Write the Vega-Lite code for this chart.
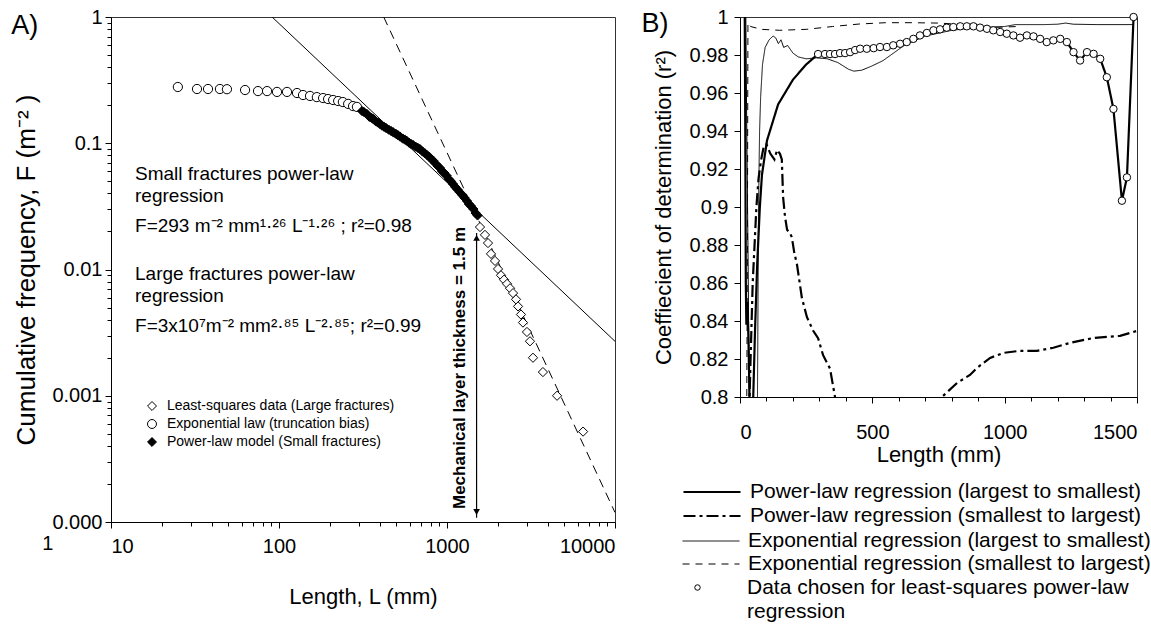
{
  "$schema": "https://vega.github.io/schema/vega-lite/v6.json",
  "background": "white",
  "padding": {"left": 10, "top": 6, "right": 0, "bottom": 0},
  "spacing": 125,
  "bounds": "flush",
  "resolve": {"scale": {"strokeDash": "independent", "shape": "independent", "fill": "independent", "stroke": "independent"}, "legend": {"strokeDash": "independent", "shape": "independent", "fill": "independent", "stroke": "independent"}},
  "config": {
    "font": "Liberation Sans",
    "view": {"stroke": "#333", "strokeWidth": 1},
    "axis": {"grid": false, "domainColor": "black", "tickColor": "black", "labelColor": "black", "titleColor": "black", "labelFontSize": 20, "titleFontSize": 22, "titleFontWeight": "normal", "labelOverlap": false, "labelBound": false},
    "legend": {"labelColor": "black", "titleColor": "black"}
  },
  "datasets": {
    "leftFit": [
      {"L": 91, "F": 1, "fit": "small"}, {"L": 10000, "F": 0.0027, "fit": "small"},
      {"L": 420, "F": 1, "fit": "large"}, {"L": 10000, "F": 0.000119, "fit": "large"}
    ],
    "leftArrow": [{"L": 1500, "F": 0.0195, "F2": 0.000108}],
    "leftArrowHeads": [{"L": 1500, "F": 0.0178, "dir": "up"}, {"L": 1500, "F": 0.00012, "dir": "down"}],
    "leftPoints": [
      {"L": 25.0, "F": 0.279, "kind": "Exponential law (truncation bias)"},
      {"L": 32.5, "F": 0.269, "kind": "Exponential law (truncation bias)"},
      {"L": 37.8, "F": 0.269, "kind": "Exponential law (truncation bias)"},
      {"L": 44.5, "F": 0.269, "kind": "Exponential law (truncation bias)"},
      {"L": 49.0, "F": 0.268, "kind": "Exponential law (truncation bias)"},
      {"L": 62.8, "F": 0.264, "kind": "Exponential law (truncation bias)"},
      {"L": 75.0, "F": 0.259, "kind": "Exponential law (truncation bias)"},
      {"L": 84.9, "F": 0.259, "kind": "Exponential law (truncation bias)"},
      {"L": 97.3, "F": 0.255, "kind": "Exponential law (truncation bias)"},
      {"L": 111.6, "F": 0.255, "kind": "Exponential law (truncation bias)"},
      {"L": 128, "F": 0.250, "kind": "Exponential law (truncation bias)"},
      {"L": 139, "F": 0.241, "kind": "Exponential law (truncation bias)"},
      {"L": 153, "F": 0.237, "kind": "Exponential law (truncation bias)"},
      {"L": 168, "F": 0.232, "kind": "Exponential law (truncation bias)"},
      {"L": 183, "F": 0.228, "kind": "Exponential law (truncation bias)"},
      {"L": 196, "F": 0.224, "kind": "Exponential law (truncation bias)"},
      {"L": 210, "F": 0.220, "kind": "Exponential law (truncation bias)"},
      {"L": 225, "F": 0.216, "kind": "Exponential law (truncation bias)"},
      {"L": 240, "F": 0.212, "kind": "Exponential law (truncation bias)"},
      {"L": 258, "F": 0.205, "kind": "Exponential law (truncation bias)"},
      {"L": 276, "F": 0.197, "kind": "Exponential law (truncation bias)"},
      {"L": 291, "F": 0.194, "kind": "Exponential law (truncation bias)"},
      {"L": 312, "F": 0.180, "kind": "Power-law model (Small fractures)"},
      {"L": 320, "F": 0.177, "kind": "Power-law model (Small fractures)"},
      {"L": 333, "F": 0.171, "kind": "Power-law model (Small fractures)"},
      {"L": 345, "F": 0.162, "kind": "Power-law model (Small fractures)"},
      {"L": 355, "F": 0.159, "kind": "Power-law model (Small fractures)"},
      {"L": 363, "F": 0.156, "kind": "Power-law model (Small fractures)"},
      {"L": 375, "F": 0.150, "kind": "Power-law model (Small fractures)"},
      {"L": 387, "F": 0.146, "kind": "Power-law model (Small fractures)"},
      {"L": 399, "F": 0.142, "kind": "Power-law model (Small fractures)"},
      {"L": 410, "F": 0.138, "kind": "Power-law model (Small fractures)"},
      {"L": 422, "F": 0.135, "kind": "Power-law model (Small fractures)"},
      {"L": 434, "F": 0.132, "kind": "Power-law model (Small fractures)"},
      {"L": 450, "F": 0.128, "kind": "Power-law model (Small fractures)"},
      {"L": 465, "F": 0.125, "kind": "Power-law model (Small fractures)"},
      {"L": 479, "F": 0.122, "kind": "Power-law model (Small fractures)"},
      {"L": 495, "F": 0.119, "kind": "Power-law model (Small fractures)"},
      {"L": 510, "F": 0.116, "kind": "Power-law model (Small fractures)"},
      {"L": 525, "F": 0.113, "kind": "Power-law model (Small fractures)"},
      {"L": 545, "F": 0.109, "kind": "Power-law model (Small fractures)"},
      {"L": 560, "F": 0.107, "kind": "Power-law model (Small fractures)"},
      {"L": 575, "F": 0.1047, "kind": "Power-law model (Small fractures)"},
      {"L": 595, "F": 0.101, "kind": "Power-law model (Small fractures)"},
      {"L": 610, "F": 0.099, "kind": "Power-law model (Small fractures)"},
      {"L": 628, "F": 0.0969, "kind": "Power-law model (Small fractures)"},
      {"L": 650, "F": 0.094, "kind": "Power-law model (Small fractures)"},
      {"L": 670, "F": 0.092, "kind": "Power-law model (Small fractures)"},
      {"L": 690, "F": 0.090, "kind": "Power-law model (Small fractures)"},
      {"L": 715, "F": 0.086, "kind": "Power-law model (Small fractures)"},
      {"L": 740, "F": 0.083, "kind": "Power-law model (Small fractures)"},
      {"L": 760, "F": 0.0807, "kind": "Power-law model (Small fractures)"},
      {"L": 785, "F": 0.078, "kind": "Power-law model (Small fractures)"},
      {"L": 805, "F": 0.075, "kind": "Power-law model (Small fractures)"},
      {"L": 828, "F": 0.0728, "kind": "Power-law model (Small fractures)"},
      {"L": 855, "F": 0.069, "kind": "Power-law model (Small fractures)"},
      {"L": 880, "F": 0.066, "kind": "Power-law model (Small fractures)"},
      {"L": 908, "F": 0.0637, "kind": "Power-law model (Small fractures)"},
      {"L": 935, "F": 0.060, "kind": "Power-law model (Small fractures)"},
      {"L": 965, "F": 0.058, "kind": "Power-law model (Small fractures)"},
      {"L": 995, "F": 0.0553, "kind": "Power-law model (Small fractures)"},
      {"L": 1025, "F": 0.052, "kind": "Power-law model (Small fractures)"},
      {"L": 1055, "F": 0.050, "kind": "Power-law model (Small fractures)"},
      {"L": 1086, "F": 0.0475, "kind": "Power-law model (Small fractures)"},
      {"L": 1120, "F": 0.045, "kind": "Power-law model (Small fractures)"},
      {"L": 1155, "F": 0.043, "kind": "Power-law model (Small fractures)"},
      {"L": 1194, "F": 0.0408, "kind": "Power-law model (Small fractures)"},
      {"L": 1230, "F": 0.039, "kind": "Power-law model (Small fractures)"},
      {"L": 1270, "F": 0.037, "kind": "Power-law model (Small fractures)"},
      {"L": 1315, "F": 0.0349, "kind": "Power-law model (Small fractures)"},
      {"L": 1350, "F": 0.033, "kind": "Power-law model (Small fractures)"},
      {"L": 1390, "F": 0.0318, "kind": "Power-law model (Small fractures)"},
      {"L": 1435, "F": 0.0301, "kind": "Power-law model (Small fractures)"},
      {"L": 1480, "F": 0.028, "kind": "Power-law model (Small fractures)"},
      {"L": 1520, "F": 0.0268, "kind": "Power-law model (Small fractures)"},
      {"L": 1572, "F": 0.0217, "kind": "Least-squares data (Large fractures)"},
      {"L": 1683, "F": 0.0188, "kind": "Least-squares data (Large fractures)"},
      {"L": 1754, "F": 0.0162, "kind": "Least-squares data (Large fractures)"},
      {"L": 1828, "F": 0.0133, "kind": "Least-squares data (Large fractures)"},
      {"L": 1931, "F": 0.0117, "kind": "Least-squares data (Large fractures)"},
      {"L": 2013, "F": 0.0101, "kind": "Least-squares data (Large fractures)"},
      {"L": 2096, "F": 0.0090, "kind": "Least-squares data (Large fractures)"},
      {"L": 2185, "F": 0.0083, "kind": "Least-squares data (Large fractures)"},
      {"L": 2277, "F": 0.0077, "kind": "Least-squares data (Large fractures)"},
      {"L": 2373, "F": 0.0071, "kind": "Least-squares data (Large fractures)"},
      {"L": 2472, "F": 0.0065, "kind": "Least-squares data (Large fractures)"},
      {"L": 2576, "F": 0.0058, "kind": "Least-squares data (Large fractures)"},
      {"L": 2648, "F": 0.0051, "kind": "Least-squares data (Large fractures)"},
      {"L": 2756, "F": 0.0044, "kind": "Least-squares data (Large fractures)"},
      {"L": 2833, "F": 0.0038, "kind": "Least-squares data (Large fractures)"},
      {"L": 2992, "F": 0.0032, "kind": "Least-squares data (Large fractures)"},
      {"L": 3118, "F": 0.0027, "kind": "Least-squares data (Large fractures)"},
      {"L": 3250, "F": 0.0020, "kind": "Least-squares data (Large fractures)"},
      {"L": 3724, "F": 0.00154, "kind": "Least-squares data (Large fractures)"},
      {"L": 4520, "F": 0.00100, "kind": "Least-squares data (Large fractures)"},
      {"L": 6457, "F": 0.00052, "kind": "Least-squares data (Large fractures)"}
    ],
    "leftText": [
      {"L": 13.9, "F": 0.0571, "text": "Small fractures power-law"},
      {"L": 13.9, "F": 0.0382, "text": "regression"},
      {"L": 13.9, "F": 0.0221, "text": "F=293 m⁻² mm¹·²⁶ L⁻¹·²⁶ ; r²=0.98"},
      {"L": 13.9, "F": 0.00921, "text": "Large fractures power-law"},
      {"L": 13.9, "F": 0.00617, "text": "regression"},
      {"L": 13.9, "F": 0.00357, "text": "F=3x10⁷m⁻² mm²·⁸⁵ L⁻²·⁸⁵; r²=0.99"}
    ],
    "leftArrowText": [{"L": 1194, "F": 0.00166, "text": "Mechanical layer thickness = 1.5 m"}],
    "leftPanelLabel": [{"L": 3.07, "F": 0.85, "text": "A)"}],
    "leftStray": [{"L": 4.2, "F": 0.000067, "text": "1"}],
    "rightLines": [
      {"L": 18, "r2": 1.0, "series": "Power-law regression (largest to smallest)"},
      {"L": 20, "r2": 0.94, "series": "Power-law regression (largest to smallest)"},
      {"L": 22, "r2": 0.86, "series": "Power-law regression (largest to smallest)"},
      {"L": 24, "r2": 0.838, "series": "Power-law regression (largest to smallest)"},
      {"L": 28, "r2": 0.85, "series": "Power-law regression (largest to smallest)"},
      {"L": 32, "r2": 0.83, "series": "Power-law regression (largest to smallest)"},
      {"L": 36, "r2": 0.80, "series": "Power-law regression (largest to smallest)"},
      {"L": 40, "r2": 0.78, "series": "Power-law regression (largest to smallest)"},
      {"L": 46, "r2": 0.78, "series": "Power-law regression (largest to smallest)"},
      {"L": 50, "r2": 0.80, "series": "Power-law regression (largest to smallest)"},
      {"L": 57, "r2": 0.836, "series": "Power-law regression (largest to smallest)"},
      {"L": 65, "r2": 0.87, "series": "Power-law regression (largest to smallest)"},
      {"L": 75, "r2": 0.90, "series": "Power-law regression (largest to smallest)"},
      {"L": 83, "r2": 0.917, "series": "Power-law regression (largest to smallest)"},
      {"L": 102, "r2": 0.935, "series": "Power-law regression (largest to smallest)"},
      {"L": 144, "r2": 0.954, "series": "Power-law regression (largest to smallest)"},
      {"L": 200, "r2": 0.967, "series": "Power-law regression (largest to smallest)"},
      {"L": 250, "r2": 0.975, "series": "Power-law regression (largest to smallest)"},
      {"L": 295, "r2": 0.9805, "series": "Power-law regression (largest to smallest)"},
      {"L": 321, "r2": 0.9805, "series": "Power-law regression (largest to smallest)"},
      {"L": 340, "r2": 0.9805, "series": "Power-law regression (largest to smallest)"},
      {"L": 359, "r2": 0.9805, "series": "Power-law regression (largest to smallest)"},
      {"L": 378, "r2": 0.981, "series": "Power-law regression (largest to smallest)"},
      {"L": 397, "r2": 0.981, "series": "Power-law regression (largest to smallest)"},
      {"L": 416, "r2": 0.9815, "series": "Power-law regression (largest to smallest)"},
      {"L": 435, "r2": 0.9826, "series": "Power-law regression (largest to smallest)"},
      {"L": 454, "r2": 0.9833, "series": "Power-law regression (largest to smallest)"},
      {"L": 479, "r2": 0.9833, "series": "Power-law regression (largest to smallest)"},
      {"L": 505, "r2": 0.9836, "series": "Power-law regression (largest to smallest)"},
      {"L": 529, "r2": 0.9842, "series": "Power-law regression (largest to smallest)"},
      {"L": 555, "r2": 0.9842, "series": "Power-law regression (largest to smallest)"},
      {"L": 579, "r2": 0.9851, "series": "Power-law regression (largest to smallest)"},
      {"L": 605, "r2": 0.9859, "series": "Power-law regression (largest to smallest)"},
      {"L": 630, "r2": 0.9868, "series": "Power-law regression (largest to smallest)"},
      {"L": 655, "r2": 0.9885, "series": "Power-law regression (largest to smallest)"},
      {"L": 680, "r2": 0.9903, "series": "Power-law regression (largest to smallest)"},
      {"L": 706, "r2": 0.9916, "series": "Power-law regression (largest to smallest)"},
      {"L": 731, "r2": 0.993, "series": "Power-law regression (largest to smallest)"},
      {"L": 756, "r2": 0.9935, "series": "Power-law regression (largest to smallest)"},
      {"L": 781, "r2": 0.9944, "series": "Power-law regression (largest to smallest)"},
      {"L": 806, "r2": 0.9947, "series": "Power-law regression (largest to smallest)"},
      {"L": 832, "r2": 0.9951, "series": "Power-law regression (largest to smallest)"},
      {"L": 857, "r2": 0.9951, "series": "Power-law regression (largest to smallest)"},
      {"L": 882, "r2": 0.9951, "series": "Power-law regression (largest to smallest)"},
      {"L": 907, "r2": 0.9944, "series": "Power-law regression (largest to smallest)"},
      {"L": 933, "r2": 0.9938, "series": "Power-law regression (largest to smallest)"},
      {"L": 957, "r2": 0.993, "series": "Power-law regression (largest to smallest)"},
      {"L": 983, "r2": 0.9921, "series": "Power-law regression (largest to smallest)"},
      {"L": 1008, "r2": 0.9912, "series": "Power-law regression (largest to smallest)"},
      {"L": 1033, "r2": 0.9903, "series": "Power-law regression (largest to smallest)"},
      {"L": 1058, "r2": 0.9891, "series": "Power-law regression (largest to smallest)"},
      {"L": 1084, "r2": 0.9903, "series": "Power-law regression (largest to smallest)"},
      {"L": 1109, "r2": 0.9898, "series": "Power-law regression (largest to smallest)"},
      {"L": 1134, "r2": 0.9885, "series": "Power-law regression (largest to smallest)"},
      {"L": 1159, "r2": 0.9868, "series": "Power-law regression (largest to smallest)"},
      {"L": 1184, "r2": 0.9877, "series": "Power-law regression (largest to smallest)"},
      {"L": 1210, "r2": 0.9885, "series": "Power-law regression (largest to smallest)"},
      {"L": 1235, "r2": 0.9868, "series": "Power-law regression (largest to smallest)"},
      {"L": 1260, "r2": 0.9815, "series": "Power-law regression (largest to smallest)"},
      {"L": 1285, "r2": 0.9771, "series": "Power-law regression (largest to smallest)"},
      {"L": 1311, "r2": 0.9815, "series": "Power-law regression (largest to smallest)"},
      {"L": 1336, "r2": 0.9806, "series": "Power-law regression (largest to smallest)"},
      {"L": 1361, "r2": 0.978, "series": "Power-law regression (largest to smallest)"},
      {"L": 1386, "r2": 0.9683, "series": "Power-law regression (largest to smallest)"},
      {"L": 1411, "r2": 0.9516, "series": "Power-law regression (largest to smallest)"},
      {"L": 1443, "r2": 0.9033, "series": "Power-law regression (largest to smallest)"},
      {"L": 1462, "r2": 0.9156, "series": "Power-law regression (largest to smallest)"},
      {"L": 1487, "r2": 1.0, "series": "Power-law regression (largest to smallest)"},
      {"L": 30, "r2": 0.78, "series": "Power-law regression (smallest to largest)"},
      {"L": 36, "r2": 0.80, "series": "Power-law regression (smallest to largest)"},
      {"L": 42, "r2": 0.83, "series": "Power-law regression (smallest to largest)"},
      {"L": 48, "r2": 0.86, "series": "Power-law regression (smallest to largest)"},
      {"L": 55, "r2": 0.88, "series": "Power-law regression (smallest to largest)"},
      {"L": 62, "r2": 0.90, "series": "Power-law regression (smallest to largest)"},
      {"L": 70, "r2": 0.915, "series": "Power-law regression (smallest to largest)"},
      {"L": 80, "r2": 0.925, "series": "Power-law regression (smallest to largest)"},
      {"L": 90, "r2": 0.932, "series": "Power-law regression (smallest to largest)"},
      {"L": 100, "r2": 0.933, "series": "Power-law regression (smallest to largest)"},
      {"L": 115, "r2": 0.928, "series": "Power-law regression (smallest to largest)"},
      {"L": 130, "r2": 0.925, "series": "Power-law regression (smallest to largest)"},
      {"L": 140, "r2": 0.93, "series": "Power-law regression (smallest to largest)"},
      {"L": 151, "r2": 0.928, "series": "Power-law regression (smallest to largest)"},
      {"L": 158, "r2": 0.925, "series": "Power-law regression (smallest to largest)"},
      {"L": 163, "r2": 0.905, "series": "Power-law regression (smallest to largest)"},
      {"L": 170, "r2": 0.895, "series": "Power-law regression (smallest to largest)"},
      {"L": 178, "r2": 0.888, "series": "Power-law regression (smallest to largest)"},
      {"L": 190, "r2": 0.886, "series": "Power-law regression (smallest to largest)"},
      {"L": 196, "r2": 0.884, "series": "Power-law regression (smallest to largest)"},
      {"L": 205, "r2": 0.876, "series": "Power-law regression (smallest to largest)"},
      {"L": 215, "r2": 0.870, "series": "Power-law regression (smallest to largest)"},
      {"L": 234, "r2": 0.852, "series": "Power-law regression (smallest to largest)"},
      {"L": 253, "r2": 0.842, "series": "Power-law regression (smallest to largest)"},
      {"L": 276, "r2": 0.835, "series": "Power-law regression (smallest to largest)"},
      {"L": 295, "r2": 0.831, "series": "Power-law regression (smallest to largest)"},
      {"L": 314, "r2": 0.822, "series": "Power-law regression (smallest to largest)"},
      {"L": 340, "r2": 0.815, "series": "Power-law regression (smallest to largest)"},
      {"L": 359, "r2": 0.80, "series": "Power-law regression (smallest to largest)"},
      {"L": 375, "r2": 0.78, "series": "Power-law regression (smallest to largest)"},
      {"L": 740, "r2": 0.78, "series": "Power-law regression (smallest to largest)"},
      {"L": 763, "r2": 0.80, "series": "Power-law regression (smallest to largest)"},
      {"L": 820, "r2": 0.8074, "series": "Power-law regression (smallest to largest)"},
      {"L": 869, "r2": 0.8116, "series": "Power-law regression (smallest to largest)"},
      {"L": 895, "r2": 0.8153, "series": "Power-law regression (smallest to largest)"},
      {"L": 945, "r2": 0.8206, "series": "Power-law regression (smallest to largest)"},
      {"L": 995, "r2": 0.8232, "series": "Power-law regression (smallest to largest)"},
      {"L": 1058, "r2": 0.8243, "series": "Power-law regression (smallest to largest)"},
      {"L": 1122, "r2": 0.8243, "series": "Power-law regression (smallest to largest)"},
      {"L": 1184, "r2": 0.8259, "series": "Power-law regression (smallest to largest)"},
      {"L": 1247, "r2": 0.8285, "series": "Power-law regression (smallest to largest)"},
      {"L": 1336, "r2": 0.8311, "series": "Power-law regression (smallest to largest)"},
      {"L": 1436, "r2": 0.8322, "series": "Power-law regression (smallest to largest)"},
      {"L": 1500, "r2": 0.8348, "series": "Power-law regression (smallest to largest)"},
      {"L": 22, "r2": 1.0, "series": "Exponential regression (largest to smallest)"},
      {"L": 25, "r2": 0.95, "series": "Exponential regression (largest to smallest)"},
      {"L": 30, "r2": 0.88, "series": "Exponential regression (largest to smallest)"},
      {"L": 35, "r2": 0.80, "series": "Exponential regression (largest to smallest)"},
      {"L": 40, "r2": 0.78, "series": "Exponential regression (largest to smallest)"},
      {"L": 60, "r2": 0.78, "series": "Exponential regression (largest to smallest)"},
      {"L": 66, "r2": 0.80, "series": "Exponential regression (largest to smallest)"},
      {"L": 70, "r2": 0.90, "series": "Exponential regression (largest to smallest)"},
      {"L": 74, "r2": 0.94, "series": "Exponential regression (largest to smallest)"},
      {"L": 78, "r2": 0.958, "series": "Exponential regression (largest to smallest)"},
      {"L": 85, "r2": 0.975, "series": "Exponential regression (largest to smallest)"},
      {"L": 95, "r2": 0.984, "series": "Exponential regression (largest to smallest)"},
      {"L": 110, "r2": 0.988, "series": "Exponential regression (largest to smallest)"},
      {"L": 125, "r2": 0.99, "series": "Exponential regression (largest to smallest)"},
      {"L": 135, "r2": 0.989, "series": "Exponential regression (largest to smallest)"},
      {"L": 145, "r2": 0.986, "series": "Exponential regression (largest to smallest)"},
      {"L": 155, "r2": 0.988, "series": "Exponential regression (largest to smallest)"},
      {"L": 165, "r2": 0.984, "series": "Exponential regression (largest to smallest)"},
      {"L": 180, "r2": 0.985, "series": "Exponential regression (largest to smallest)"},
      {"L": 200, "r2": 0.981, "series": "Exponential regression (largest to smallest)"},
      {"L": 220, "r2": 0.979, "series": "Exponential regression (largest to smallest)"},
      {"L": 250, "r2": 0.978, "series": "Exponential regression (largest to smallest)"},
      {"L": 290, "r2": 0.9785, "series": "Exponential regression (largest to smallest)"},
      {"L": 330, "r2": 0.978, "series": "Exponential regression (largest to smallest)"},
      {"L": 370, "r2": 0.976, "series": "Exponential regression (largest to smallest)"},
      {"L": 410, "r2": 0.9725, "series": "Exponential regression (largest to smallest)"},
      {"L": 430, "r2": 0.9715, "series": "Exponential regression (largest to smallest)"},
      {"L": 460, "r2": 0.972, "series": "Exponential regression (largest to smallest)"},
      {"L": 495, "r2": 0.974, "series": "Exponential regression (largest to smallest)"},
      {"L": 540, "r2": 0.977, "series": "Exponential regression (largest to smallest)"},
      {"L": 570, "r2": 0.98, "series": "Exponential regression (largest to smallest)"},
      {"L": 620, "r2": 0.985, "series": "Exponential regression (largest to smallest)"},
      {"L": 700, "r2": 0.99, "series": "Exponential regression (largest to smallest)"},
      {"L": 800, "r2": 0.993, "series": "Exponential regression (largest to smallest)"},
      {"L": 900, "r2": 0.9945, "series": "Exponential regression (largest to smallest)"},
      {"L": 1000, "r2": 0.995, "series": "Exponential regression (largest to smallest)"},
      {"L": 1040, "r2": 0.996, "series": "Exponential regression (largest to smallest)"},
      {"L": 1150, "r2": 0.996, "series": "Exponential regression (largest to smallest)"},
      {"L": 1200, "r2": 0.9962, "series": "Exponential regression (largest to smallest)"},
      {"L": 1230, "r2": 0.9968, "series": "Exponential regression (largest to smallest)"},
      {"L": 1260, "r2": 0.9962, "series": "Exponential regression (largest to smallest)"},
      {"L": 1350, "r2": 0.996, "series": "Exponential regression (largest to smallest)"},
      {"L": 1487, "r2": 0.996, "series": "Exponential regression (largest to smallest)"},
      {"L": 25, "r2": 0.78, "series": "Exponential regression (smallest to largest)"},
      {"L": 28, "r2": 0.88, "series": "Exponential regression (smallest to largest)"},
      {"L": 30, "r2": 0.997, "series": "Exponential regression (smallest to largest)"},
      {"L": 40, "r2": 0.995, "series": "Exponential regression (smallest to largest)"},
      {"L": 80, "r2": 0.9935, "series": "Exponential regression (smallest to largest)"},
      {"L": 150, "r2": 0.993, "series": "Exponential regression (smallest to largest)"},
      {"L": 250, "r2": 0.9935, "series": "Exponential regression (smallest to largest)"},
      {"L": 350, "r2": 0.995, "series": "Exponential regression (smallest to largest)"},
      {"L": 450, "r2": 0.9963, "series": "Exponential regression (smallest to largest)"},
      {"L": 550, "r2": 0.997, "series": "Exponential regression (smallest to largest)"},
      {"L": 650, "r2": 0.997, "series": "Exponential regression (smallest to largest)"},
      {"L": 750, "r2": 0.9968, "series": "Exponential regression (smallest to largest)"},
      {"L": 850, "r2": 0.996, "series": "Exponential regression (smallest to largest)"},
      {"L": 950, "r2": 0.9945, "series": "Exponential regression (smallest to largest)"},
      {"L": 1050, "r2": 0.995, "series": "Exponential regression (smallest to largest)"}
    ],
    "rightCircles": [
      {"L": 295, "r2": 0.9805}, {"L": 321, "r2": 0.9805}, {"L": 340, "r2": 0.9805}, {"L": 359, "r2": 0.9805},
      {"L": 378, "r2": 0.981}, {"L": 397, "r2": 0.981}, {"L": 416, "r2": 0.9815}, {"L": 435, "r2": 0.9826},
      {"L": 454, "r2": 0.9833}, {"L": 479, "r2": 0.9833}, {"L": 505, "r2": 0.9836}, {"L": 529, "r2": 0.9842},
      {"L": 555, "r2": 0.9842}, {"L": 579, "r2": 0.9851}, {"L": 605, "r2": 0.9859}, {"L": 630, "r2": 0.9868},
      {"L": 655, "r2": 0.9885}, {"L": 680, "r2": 0.9903}, {"L": 706, "r2": 0.9916}, {"L": 731, "r2": 0.993},
      {"L": 756, "r2": 0.9935}, {"L": 781, "r2": 0.9944}, {"L": 806, "r2": 0.9947}, {"L": 832, "r2": 0.9951},
      {"L": 857, "r2": 0.9951}, {"L": 882, "r2": 0.9951}, {"L": 907, "r2": 0.9944}, {"L": 933, "r2": 0.9938},
      {"L": 957, "r2": 0.993}, {"L": 983, "r2": 0.9921}, {"L": 1008, "r2": 0.9912}, {"L": 1033, "r2": 0.9903},
      {"L": 1058, "r2": 0.9891}, {"L": 1084, "r2": 0.9903}, {"L": 1109, "r2": 0.9898}, {"L": 1134, "r2": 0.9885},
      {"L": 1159, "r2": 0.9868}, {"L": 1184, "r2": 0.9877}, {"L": 1210, "r2": 0.9885}, {"L": 1235, "r2": 0.9868},
      {"L": 1260, "r2": 0.9815}, {"L": 1285, "r2": 0.9771}, {"L": 1311, "r2": 0.9815}, {"L": 1336, "r2": 0.9806},
      {"L": 1361, "r2": 0.978}, {"L": 1386, "r2": 0.9683}, {"L": 1411, "r2": 0.9516}, {"L": 1443, "r2": 0.9033},
      {"L": 1462, "r2": 0.9156}, {"L": 1487, "r2": 1.0}
    ],
    "rightPanelLabel": [{"L": -321, "r2": 0.9963, "text": "B)"}],
    "rightLegendWrap": [{"L": 26.5, "r2": 0.6866, "text": "regression"}]
  },
  "hconcat": [
    {
      "width": 504,
      "height": 505,
      "encoding": {
        "x": {
          "field": "L", "type": "quantitative",
          "scale": {"type": "log", "domain": [10, 10000], "nice": false},
          "axis": {
            "title": "Length, L (mm)",
            "values": [10, 20, 30, 40, 50, 60, 70, 80, 90, 100, 200, 300, 400, 500, 600, 700, 800, 900, 1000, 2000, 3000, 4000, 5000, 6000, 7000, 8000, 9000, 10000],
            "labelExpr": "datum.value == 10 ? '10' : datum.value == 100 ? '100' : datum.value == 1000 ? '1000' : datum.value == 10000 ? '10000' : ''",
            "tickSize": {"condition": {"test": "indexof([10, 100, 1000, 10000], datum.value) >= 0", "value": 6}, "value": 4},
            "labelPadding": 8,
            "titlePadding": 30
          }
        },
        "y": {
          "field": "F", "type": "quantitative",
          "scale": {"type": "log", "domain": [0.0001, 1], "nice": false},
          "axis": {
            "title": "Cumulative frequency, F (m⁻² )",
            "values": [0.0001, 0.0002, 0.0003, 0.0004, 0.0005, 0.0006, 0.0007, 0.0008, 0.0009, 0.001, 0.002, 0.003, 0.004, 0.005, 0.006, 0.007, 0.008, 0.009, 0.01, 0.02, 0.03, 0.04, 0.05, 0.06, 0.07, 0.08, 0.09, 0.1, 0.2, 0.3, 0.4, 0.5, 0.6, 0.7, 0.8, 0.9, 1],
            "labelExpr": "datum.value == 1 ? '1' : datum.value == 0.1 ? '0.1' : datum.value == 0.01 ? '0.01' : datum.value == 0.001 ? '0.001' : datum.value == 0.0001 ? '0.000' : ''",
            "tickSize": {"condition": {"test": "indexof([1, 0.1, 0.01, 0.001, 0.0001], datum.value) >= 0", "value": 6}, "value": 4},
            "labelPadding": 3,
            "titlePadding": 12,
            "titleFontSize": 26
          }
        }
      },
      "layer": [
        {
          "data": {"name": "leftFit"},
          "transform": [{"filter": "datum.fit == 'small'"}],
          "mark": {"type": "line", "clip": true, "color": "black", "strokeWidth": 1}
        },
        {
          "data": {"name": "leftFit"},
          "transform": [{"filter": "datum.fit == 'large'"}],
          "mark": {"type": "line", "clip": true, "color": "black", "strokeWidth": 1, "strokeDash": [9, 6]}
        },
        {
          "data": {"name": "leftArrow"},
          "mark": {"type": "rule", "color": "black", "strokeWidth": 1.2},
          "encoding": {"y2": {"field": "F2"}}
        },
        {
          "data": {"name": "leftArrowHeads"},
          "transform": [{"filter": "datum.dir == 'up'"}],
          "mark": {"type": "point", "shape": "triangle-up", "filled": true, "color": "black", "size": 45, "opacity": 1}
        },
        {
          "data": {"name": "leftArrowHeads"},
          "transform": [{"filter": "datum.dir == 'down'"}],
          "mark": {"type": "point", "shape": "triangle-down", "filled": true, "color": "black", "size": 45, "opacity": 1}
        },
        {
          "data": {"name": "leftPoints"},
          "mark": {"type": "point", "filled": false, "strokeWidth": 1, "size": 85, "opacity": 1},
          "encoding": {
            "shape": {
              "field": "kind", "type": "nominal",
              "scale": {"domain": ["Least-squares data (Large fractures)", "Exponential law (truncation bias)", "Power-law model (Small fractures)"], "range": ["diamond", "circle", "diamond"]},
              "legend": {"orient": "none", "legendX": 34, "legendY": 382, "title": null, "symbolSize": 80, "symbolStrokeWidth": 1, "labelFontSize": 14, "labelFont": "Liberation Sans", "labelOffset": 8, "rowPadding": 4, "labelLimit": 400, "padding": 0}
            },
            "fill": {
              "field": "kind", "type": "nominal",
              "scale": {"domain": ["Least-squares data (Large fractures)", "Exponential law (truncation bias)", "Power-law model (Small fractures)"], "range": ["white", "white", "black"]},
              "legend": {"orient": "none", "legendX": 34, "legendY": 382, "title": null, "symbolSize": 80, "symbolStrokeWidth": 1, "labelFontSize": 14, "labelFont": "Liberation Sans", "labelOffset": 8, "rowPadding": 4, "labelLimit": 400, "padding": 0}
            },
            "stroke": {
              "field": "kind", "type": "nominal",
              "scale": {"domain": ["Least-squares data (Large fractures)", "Exponential law (truncation bias)", "Power-law model (Small fractures)"], "range": ["black", "black", "black"]},
              "legend": {"orient": "none", "legendX": 34, "legendY": 382, "title": null, "symbolSize": 80, "symbolStrokeWidth": 1, "labelFontSize": 14, "labelFont": "Liberation Sans", "labelOffset": 8, "rowPadding": 4, "labelLimit": 400, "padding": 0}
            }
          }
        },
        {
          "data": {"name": "leftText"},
          "mark": {"type": "text", "align": "left", "baseline": "middle", "fontSize": 19, "color": "black"},
          "encoding": {"text": {"field": "text"}}
        },
        {
          "data": {"name": "leftArrowText"},
          "mark": {"type": "text", "align": "center", "baseline": "middle", "angle": 270, "fontSize": 17, "fontWeight": "bold", "color": "black"},
          "encoding": {"text": {"field": "text"}}
        },
        {
          "data": {"name": "leftPanelLabel"},
          "mark": {"type": "text", "align": "center", "baseline": "middle", "fontSize": 27, "color": "black"},
          "encoding": {"text": {"field": "text"}}
        },
        {
          "data": {"name": "leftStray"},
          "mark": {"type": "text", "align": "center", "baseline": "middle", "fontSize": 20, "color": "black"},
          "encoding": {"text": {"field": "text"}}
        }
      ]
    },
    {
      "width": 397,
      "height": 380,
      "resolve": {"scale": {"strokeDash": "independent"}, "legend": {"strokeDash": "independent"}},
      "encoding": {
        "x": {
          "field": "L", "type": "quantitative",
          "scale": {"domain": [0, 1500], "nice": false, "zero": false},
          "axis": {
            "title": "Length (mm)",
            "values": [0, 100, 200, 300, 400, 500, 600, 700, 800, 900, 1000, 1100, 1200, 1300, 1400, 1500],
            "labelExpr": "datum.value % 500 == 0 ? datum.label : ''",
            "labelFlush": true,
            "tickSize": {"condition": {"test": "datum.value % 500 == 0", "value": 6}, "value": 4},
            "labelPadding": 19,
            "titlePadding": 2,
            "format": "d"
          }
        },
        "y": {
          "field": "r2", "type": "quantitative",
          "scale": {"domain": [0.8, 1], "nice": false, "zero": false},
          "axis": {
            "title": "Coeffiecient of determination (r²)",
            "values": [0.8, 0.82, 0.84, 0.86, 0.88, 0.9, 0.92, 0.94, 0.96, 0.98, 1],
            "format": "~g",
            "tickSize": 6,
            "labelPadding": 6,
            "titlePadding": 14
          }
        }
      },
      "layer": [
        {
          "data": {"name": "rightLines"},
          "transform": [{"filter": "datum.series == 'Exponential regression (smallest to largest)'"}],
          "mark": {"type": "line", "clip": true, "color": "black", "strokeWidth": 1},
          "encoding": {
            "strokeDash": {
              "field": "series", "type": "nominal",
              "scale": {"domain": ["Exponential regression (smallest to largest)"], "range": [[7, 6]]},
              "legend": {"orient": "none", "legendX": -58, "legendY": 518, "title": null, "symbolType": "stroke", "symbolSize": 3249, "symbolStrokeColor": "black", "symbolStrokeWidth": 1, "labelFontSize": 21, "labelFont": "Liberation Sans", "labelLimit": 600, "labelOffset": 8, "padding": 0}
            }
          }
        },
        {
          "data": {"name": "rightLines"},
          "transform": [{"filter": "datum.series == 'Exponential regression (largest to smallest)'"}],
          "mark": {"type": "line", "clip": true, "color": "black", "strokeWidth": 1},
          "encoding": {
            "strokeDash": {
              "field": "series", "type": "nominal",
              "scale": {"domain": ["Exponential regression (largest to smallest)"], "range": [[1, 0]]},
              "legend": {"orient": "none", "legendX": -58, "legendY": 495, "title": null, "symbolType": "stroke", "symbolSize": 3249, "symbolStrokeColor": "black", "symbolStrokeWidth": 1, "labelFontSize": 21, "labelFont": "Liberation Sans", "labelLimit": 600, "labelOffset": 8, "padding": 0}
            }
          }
        },
        {
          "data": {"name": "rightLines"},
          "transform": [{"filter": "datum.series == 'Power-law regression (smallest to largest)'"}],
          "mark": {"type": "line", "clip": true, "color": "black", "strokeWidth": 2.2},
          "encoding": {
            "strokeDash": {
              "field": "series", "type": "nominal",
              "scale": {"domain": ["Power-law regression (smallest to largest)"], "range": [[12, 4, 3, 4]]},
              "legend": {"orient": "none", "legendX": -58, "legendY": 469, "title": null, "symbolType": "stroke", "symbolSize": 3249, "symbolStrokeColor": "black", "symbolStrokeWidth": 2.2, "labelFontSize": 21, "labelFont": "Liberation Sans", "labelLimit": 600, "labelOffset": 8, "padding": 0}
            }
          }
        },
        {
          "data": {"name": "rightLines"},
          "transform": [{"filter": "datum.series == 'Power-law regression (largest to smallest)'"}],
          "mark": {"type": "line", "clip": true, "color": "black", "strokeWidth": 2.2},
          "encoding": {
            "strokeDash": {
              "field": "series", "type": "nominal",
              "scale": {"domain": ["Power-law regression (largest to smallest)"], "range": [[1, 0]]},
              "legend": {"orient": "none", "legendX": -58, "legendY": 445, "title": null, "symbolType": "stroke", "symbolSize": 3249, "symbolStrokeColor": "black", "symbolStrokeWidth": 2.2, "labelFontSize": 21, "labelFont": "Liberation Sans", "labelLimit": 600, "labelOffset": 8, "padding": 0}
            }
          }
        },
        {
          "data": {"name": "rightCircles"},
          "transform": [{"calculate": "'Data chosen for least-squares power-law regression'", "as": "kind"}],
          "mark": {"type": "point", "filled": false, "strokeWidth": 1, "size": 55, "opacity": 1},
          "encoding": {
            "shape": {
              "field": "kind", "type": "nominal",
              "scale": {"domain": ["Data chosen for least-squares power-law regression"], "range": ["circle"]},
              "legend": {"orient": "none", "legendX": -53, "legendY": 560, "title": null, "symbolSize": 30, "symbolStrokeWidth": 1, "labelFontSize": 21, "labelFont": "Liberation Sans", "labelLimit": 600, "labelOffset": 39, "padding": 0,
                "labelExpr": "'Data chosen for least-squares power-law'"}
            },
            "fill": {
              "field": "kind", "type": "nominal",
              "scale": {"domain": ["Data chosen for least-squares power-law regression"], "range": ["white"]},
              "legend": {"orient": "none", "legendX": -53, "legendY": 560, "title": null, "symbolSize": 30, "symbolStrokeWidth": 1, "labelFontSize": 21, "labelFont": "Liberation Sans", "labelLimit": 600, "labelOffset": 39, "padding": 0,
                "labelExpr": "'Data chosen for least-squares power-law'"}
            },
            "stroke": {
              "field": "kind", "type": "nominal",
              "scale": {"domain": ["Data chosen for least-squares power-law regression"], "range": ["black"]},
              "legend": {"orient": "none", "legendX": -53, "legendY": 560, "title": null, "symbolSize": 30, "symbolStrokeWidth": 1, "labelFontSize": 21, "labelFont": "Liberation Sans", "labelLimit": 600, "labelOffset": 39, "padding": 0,
                "labelExpr": "'Data chosen for least-squares power-law'"}
            }
          }
        },
        {
          "data": {"name": "rightPanelLabel"},
          "mark": {"type": "text", "align": "center", "baseline": "middle", "fontSize": 27, "color": "black"},
          "encoding": {"text": {"field": "text"}}
        },
        {
          "data": {"name": "rightLegendWrap"},
          "mark": {"type": "text", "align": "left", "baseline": "middle", "fontSize": 21, "color": "black"},
          "encoding": {"text": {"field": "text"}}
        }
      ]
    }
  ]
}
